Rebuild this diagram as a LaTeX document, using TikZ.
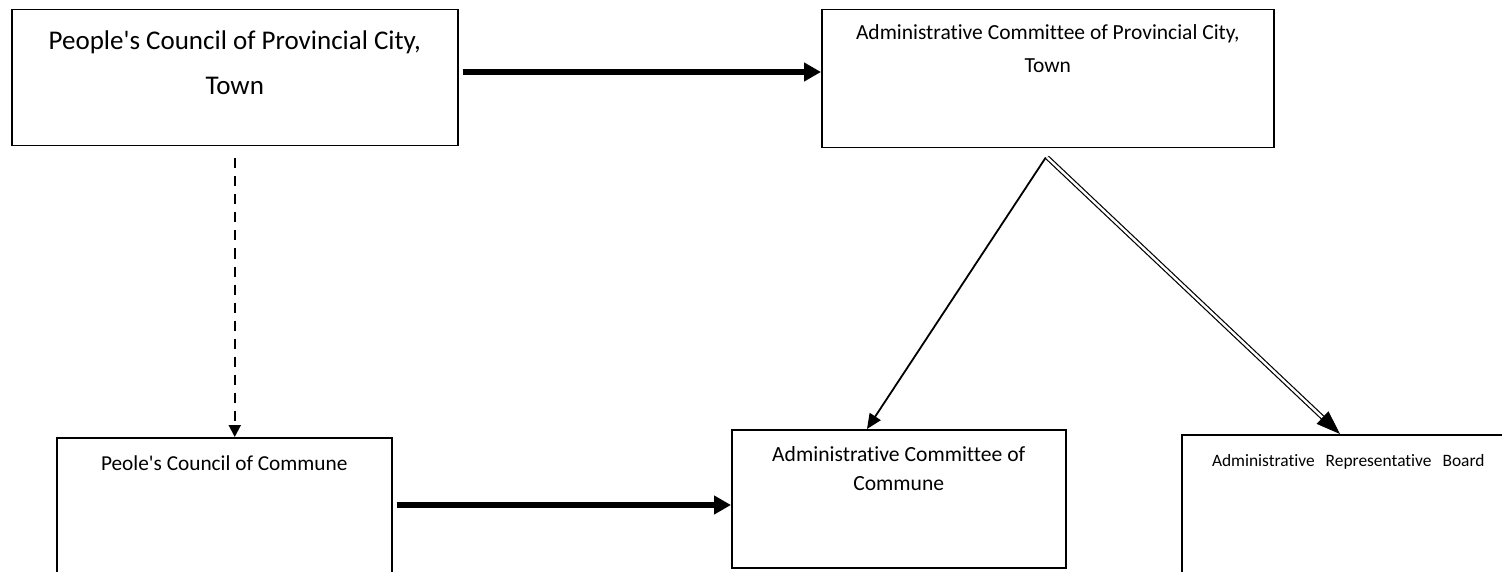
\documentclass[tikz,border=0pt]{standalone}
\usepackage{fontspec}
\setmainfont{Carlito}[Ligatures={TeX,NoCommon}]
\usetikzlibrary{arrows.meta,calc}
\newcommand{\bxt}[6]{\parbox[c][#2][t]{#1}{\centering\fontsize{#3}{#4}\selectfont\rule{0pt}{#5}#6\par}}
\begin{document}
\begin{tikzpicture}[x=1pt,y=-1pt,
  orgbox/.style={draw=black,line width=1.5pt,inner sep=0pt,anchor=north west,fill=white},
  thickarrow/.style={line width=5.5pt,-{Triangle[length=17pt,width=18pt]}},
  dasharrow/.style={line width=2pt,dash pattern=on 10pt off 8pt,-{Triangle[length=12pt,width=12pt]}},
  thinarrow/.style={line width=1.8pt,-{Triangle[length=15pt,width=13pt]}},
  dblline/.style={double=white,draw=black,line width=1.2pt,double distance=2.4pt},
  bigtip/.style={line width=1pt,-{Triangle[length=24pt,width=17pt]}}]
\useasboundingbox (0,0) rectangle (1502,572);
\clip (0,0) rectangle (1502,572);
\fill[white] (0,0) rectangle (1502,572);

\node[orgbox] (pc) at (11,9) {\bxt{446pt}{136pt}{27pt}{45pt}{40pt}{People\textquotesingle s Council of Provincial City,\\Town}};
\node[orgbox] (ac) at (821,9) {\bxt{452pt}{138pt}{21.5pt}{33pt}{30pt}{Administrative Committee of Provincial City,\\Town}};
\node[orgbox] (pcc) at (56,437) {\bxt{335pt}{150pt}{21.3pt}{29pt}{33pt}{Peole\textquotesingle s Council of Commune}};
\node[orgbox] (acc) at (731,429) {\bxt{334pt}{138pt}{21.6pt}{29pt}{32pt}{Administrative Committee of\\Commune}};
\node[orgbox] (arb) at (1181,434) {\bxt{333pt}{150pt}{17.4pt}{27pt}{32pt}{Administrative\hspace{11pt}Representative\hspace{11pt}Board}};

\coordinate (a1s) at ($(pc.north east)+(4,63)$);
\draw[thickarrow] (a1s) -- (a1s -| ac.west);

\coordinate (a2s) at ($(pcc.north east)+(4,68)$);
\draw[thickarrow] (a2s) -- (a2s -| acc.west);

\coordinate (ds) at ($(pc.south)+(0,12)$);
\draw[dasharrow] (ds) -- (ds |- pcc.north);

\coordinate (apex) at ($(ac.south)+(-2,9)$);
\coordinate (t1) at ($(acc.north west)+(136,0)$);
\coordinate (t2) at ($(arb.north west)+(159,0)$);
\draw[thinarrow] (apex) -- (t1);
\draw[dblline,shorten >=20pt] ($(apex)+(1.5,0)$) -- (t2);
\draw[bigtip] ($(t2)!24pt!(apex)$) -- (t2);
\end{tikzpicture}
\end{document}
